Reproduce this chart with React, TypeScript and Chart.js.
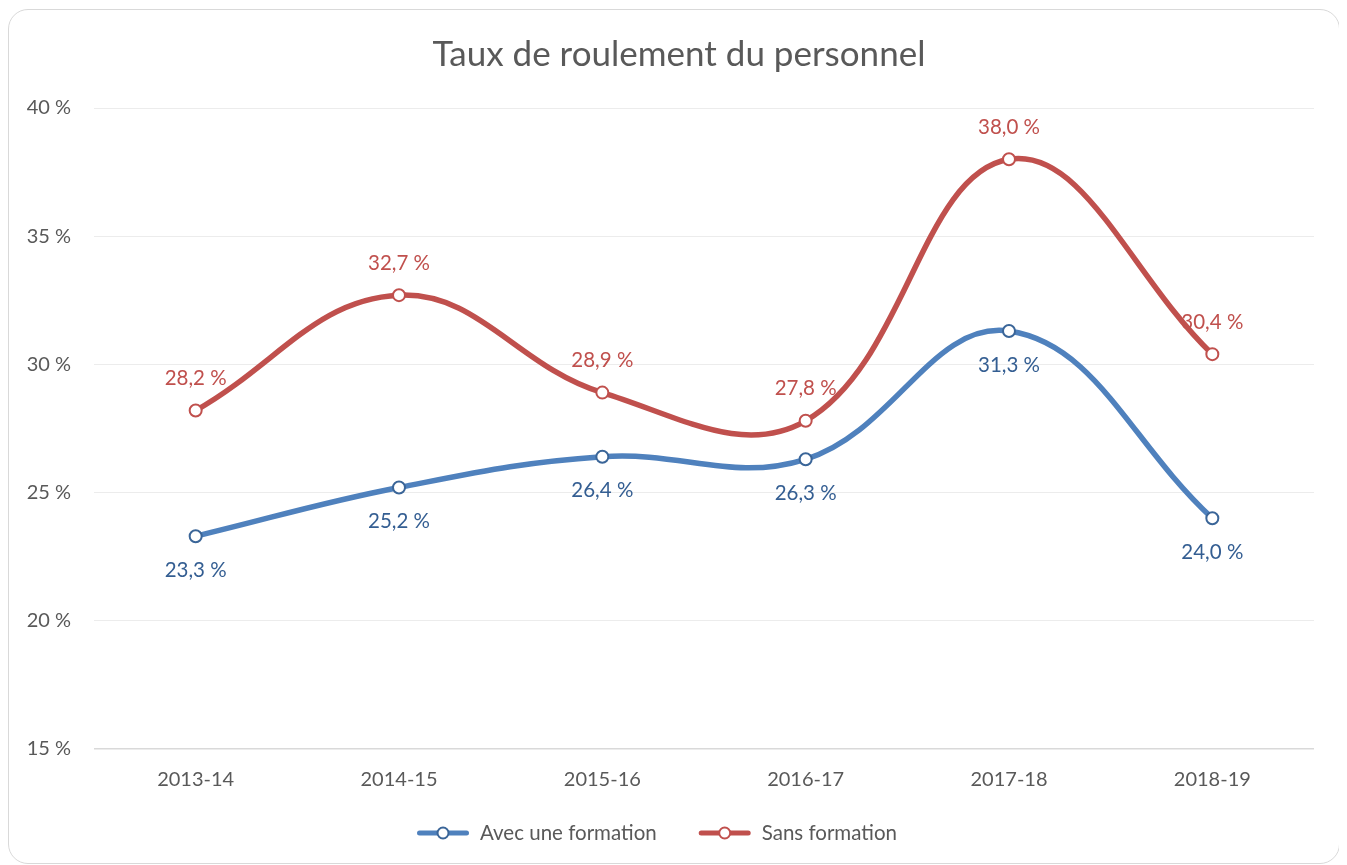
import React, { useEffect, useRef } from "react";
import { Chart, registerables } from "chart.js";

Chart.register(...registerables);

const categories = ["2013-14", "2014-15", "2015-16", "2016-17", "2017-18", "2018-19"];
const avecFormation = [23.3, 25.2, 26.4, 26.3, 31.3, 24.0];
const sansFormation = [28.2, 32.7, 28.9, 27.8, 38.0, 30.4];
const yTicks = [15, 20, 25, 30, 35, 40];

const FONT = "Lato, 'Open Sans', sans-serif";
const BLUE = "#4F81BD";
const BLUE_DARK = "#3A6598";
const BLUE_LABEL = "#345E92";
const RED = "#C0504D";
const RED_DARK = "#C0504D";
const GRAY = "#595959";

const fmt = (v: number) => v.toFixed(1).replace(".", ",") + " %";

const labelPlugin = {
  id: "pointLabels",
  afterDatasetsDraw(chart: any) {
    const ctx = chart.ctx;
    chart.data.datasets.forEach((ds: any, i: number) => {
      const meta = chart.getDatasetMeta(i);
      ctx.save();
      ctx.font = `20.5px ${FONT}`;
      ctx.textAlign = "center";
      ctx.textBaseline = "middle";
      ctx.fillStyle = ds.labelColor;
      meta.data.forEach((pt: any, j: number) => {
        ctx.fillText(fmt(ds.data[j]), pt.x, pt.y + ds.labelOffset);
      });
      ctx.restore();
    });
  },
};

const legendPlugin = {
  id: "lineLegend",
  afterDraw(chart: any) {
    const ctx = chart.ctx;
    ctx.save();
    ctx.font = `20.5px ${FONT}`;
    ctx.textBaseline = "middle";
    ctx.textAlign = "left";
    const lineW = 52;
    const textGap = 11;
    const itemGap = 42;
    const items = chart.data.datasets.map((ds: any) => ({
      ds,
      tw: ctx.measureText(ds.label).width,
    }));
    const total =
      items.reduce((s: number, it: any) => s + lineW + textGap + it.tw, 0) +
      itemGap * (items.length - 1);
    let x = chart.width / 2 - 17 - total / 2;
    const y = 823;
    items.forEach((it: any) => {
      const ds = it.ds;
      ctx.strokeStyle = ds.borderColor;
      ctx.lineWidth = 5;
      ctx.lineCap = "round";
      ctx.beginPath();
      ctx.moveTo(x + 2.5, y);
      ctx.lineTo(x + lineW - 2.5, y);
      ctx.stroke();
      ctx.beginPath();
      ctx.arc(x + lineW / 2, y, 5.5, 0, Math.PI * 2);
      ctx.fillStyle = "#fff";
      ctx.fill();
      ctx.lineWidth = 2;
      ctx.strokeStyle = ds.pointBorderColor;
      ctx.stroke();
      ctx.fillStyle = GRAY;
      ctx.fillText(ds.label, x + lineW + textGap, y);
      x += lineW + textGap + it.tw + itemGap;
    });
    ctx.restore();
  },
};

export default function App() {
  const ref = useRef<HTMLCanvasElement>(null);
  useEffect(() => {
    if (!ref.current) return;
    const chart = new Chart(ref.current, {
      type: "line",
      data: {
        labels: categories,
        datasets: [
          {
            label: "Avec une formation",
            data: avecFormation,
            borderColor: BLUE,
            backgroundColor: "#fff",
            borderWidth: 5.5,
            pointRadius: 6,
            pointBorderWidth: 2,
            pointBorderColor: BLUE_DARK,
            pointBackgroundColor: "#fff",
            tension: 0.4,
            labelColor: BLUE_LABEL,
            labelOffset: 34,
          } as any,
          {
            label: "Sans formation",
            data: sansFormation,
            borderColor: RED,
            backgroundColor: "#fff",
            borderWidth: 5.5,
            pointRadius: 6,
            pointBorderWidth: 2,
            pointBorderColor: RED_DARK,
            pointBackgroundColor: "#fff",
            tension: 0.4,
            labelColor: RED,
            labelOffset: -32,
          } as any,
        ],
      },
      options: {
        animation: false,
        responsive: false,
        maintainAspectRatio: false,
        layout: { padding: { left: 10, right: 0, top: 6, bottom: 70 } },
        plugins: {
          tooltip: { enabled: false },
          legend: { display: false },
          title: {
            display: true,
            text: "Taux de roulement du personnel",
            color: GRAY,
            font: { family: FONT, size: 35, weight: "normal" },
            padding: { top: 18, bottom: 32 },
          },
        },
        scales: {
          x: {
            offset: true,
            grid: { display: false, drawTicks: false },
            border: { display: false },
            ticks: { color: GRAY, font: { family: FONT, size: 20 }, padding: 19 },
            afterFit: (s: any) => {
              s.height = 44;
            },
          },
          y: {
            min: 15,
            max: 40,
            afterBuildTicks: (s: any) => {
              s.ticks = yTicks.map((v) => ({ value: v }));
            },
            grid: {
              drawTicks: false,
              color: (c: any) => (c.tick && c.tick.value === 15 ? "#d9d9d9" : "#ececec"),
              lineWidth: (c: any) => (c.tick && c.tick.value === 15 ? 1.5 : 1),
            },
            border: { display: false },
            ticks: {
              color: GRAY,
              font: { family: FONT, size: 20 },
              padding: 23,
              callback: (v: any) => `${v} %`,
            },
            afterFit: (s: any) => {
              s.width = 75;
            },
          },
          yRight: {
            position: "right",
            display: true,
            min: 15,
            max: 40,
            grid: { display: false, drawTicks: false },
            border: { display: false },
            ticks: { display: false },
            afterFit: (s: any) => {
              s.width = 25;
            },
          },
        },
      },
      plugins: [labelPlugin, legendPlugin],
    });
    return () => chart.destroy();
  }, []);

  return (
    <div
      style={{
        marginTop: 1,
        width: 1332,
        height: 855,
        border: "1px solid #d9d9d9",
        borderRadius: 20,
        boxSizing: "border-box",
        overflow: "hidden",
        background: "#fff",
      }}
    >
      <canvas ref={ref} width={1330} height={853} style={{ display: "block" }} />
    </div>
  );
}
